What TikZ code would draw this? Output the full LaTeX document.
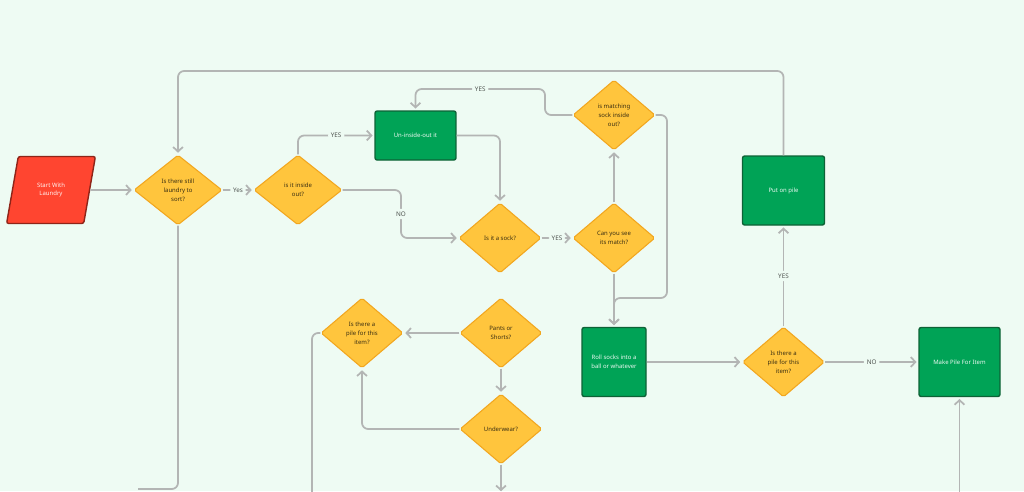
\documentclass[tikz,border=0pt]{standalone}
\usepackage{fontspec}
\setsansfont{Noto Sans}
\usetikzlibrary{arrows.meta,shapes.geometric}
\definecolor{bg}{HTML}{EEFBF3}
\definecolor{dyellow}{HTML}{FFC53D}
\definecolor{dorange}{HTML}{F2A61E}
\definecolor{dtext}{HTML}{3B2F12}
\definecolor{gfill}{HTML}{00A356}
\definecolor{gborder}{HTML}{0D6236}
\definecolor{rfill}{HTML}{FF4530}
\definecolor{rborder}{HTML}{8E2418}
\definecolor{lgray}{HTML}{B3B5B4}
\definecolor{lbltext}{HTML}{4F5450}

\begin{document}
\begin{tikzpicture}[x=0.02cm,y=-0.02cm,
	every node/.style={font=\sffamily\fontsize{3.4}{5}\selectfont,align=center},
	decision/.style={diamond,draw=dorange,fill=dyellow,line width=0.6pt,rounded corners=1pt,inner sep=0pt,minimum width=1.64cm,minimum height=1.4cm,text=dtext},
	action/.style={rectangle,draw=gborder,fill=gfill,line width=0.8pt,rounded corners=1.2pt,text=white!92!gfill},
	startbox/.style={trapezium,trapezium left angle=75,trapezium right angle=105,trapezium stretches=true,draw=rborder,fill=rfill,line width=0.8pt,rounded corners=1.2pt,minimum width=1.78cm,minimum height=1.34cm,text=white!92!rfill},
	conn/.style={draw=lgray,line width=1pt,rounded corners=3.5pt,-{Straight Barb[length=2.6pt,width=5.6pt]},shorten >=1pt},
	plainline/.style={draw=lgray,line width=1pt,rounded corners=3.5pt},
	lbl/.style={fill=bg,text=lbltext,inner sep=1.6pt,font=\sffamily\fontsize{3.6}{5}\selectfont}]
	\fill[bg] (0,0) rectangle (1024,491);
	\useasboundingbox (0,0) rectangle (1024,491);

	\node (start) at (51,190)[startbox] {Start With\\Laundry};
	\node (d1) at (178,190)[decision,minimum width=1.76cm] {Is there still\\laundry to\\sort?};
	\node (d2) at (298,190)[decision,minimum width=1.76cm] {is it inside\\out?};
	\node (unbox) at (415.5,135.5)[action,minimum width=1.62cm,minimum height=0.98cm] {Un-inside-out it};
	\node (dsock) at (500,238)[decision] {Is it a sock?};
	\node (dmatch) at (614,238)[decision] {Can you see\\its match?};
	\node (dinside) at (614,115)[decision] {is matching\\sock inside\\out?};
	\node (roll) at (614,362)[action,minimum width=1.28cm,minimum height=1.38cm] {Roll socks into a\\ball or whatever};
	\node (dpile) at (783.5,362)[decision] {Is there a\\pile for this\\item?};
	\node (puton) at (783.5,190.5)[action,minimum width=1.64cm,minimum height=1.38cm] {Put on pile};
	\node (mkpile) at (959.5,362)[action,minimum width=1.62cm,minimum height=1.38cm] {Make Pile For Item};
	\node (dpants) at (501,333)[decision] {Pants or\\Shorts?};
	\node (dpile2) at (362,333)[decision] {Is there a\\pile for this\\item?};
	\node (dunder) at (501,429)[decision] {Underwear?};

	\coordinate (nobend) at (401,214);
	\coordinate (yesup) at (545,89);
	\coordinate (merge) at (667,298);
	\coordinate (topline) at (480,71);
	\coordinate (offa) at (138,489);
	\coordinate (offb) at (312,520);
	\coordinate (offc) at (501,493);
	\coordinate (offd) at (959.5,520);

	\draw[conn] (start.east) -- (d1.west);
	\draw[conn] (d1.east) -- node[lbl] {Yes} (d2.west);
	\draw[conn] (d2.north) |- node[lbl,pos=0.75] {YES} (unbox.west);
	\draw[conn] (unbox.east) -| (dsock.north);
	\draw[conn] (d2.east) -| (nobend) node[lbl] {NO} |- (dsock.west);
	\draw[conn] (dsock.east) -- node[lbl] {YES} (dmatch.west);
	\draw[conn] (dmatch.north) -- (dinside.south);
	\draw[conn] (dinside.west) -| (yesup) -| node[lbl,pos=0.25] {YES} (unbox.north);
	\draw[conn] (dinside.east) -| (merge) -| (roll.north);
	\draw[conn] (dmatch.south) -- (roll.north);
	\draw[conn] (roll.east) -- (dpile.west);
	\draw[conn] (dpile.east) -- node[lbl] {NO} (mkpile.west);
	\draw[conn] (dpile.north) -- node[lbl] {YES} (puton.south);
	\draw[conn] (puton.north) |- (topline) -| (d1.north);
	\draw[plainline] (d1.south) |- (offa);
	\draw[conn] (dpants.west) -- (dpile2.east);
	\draw[plainline] (dpile2.west) -| (offb);
	\draw[conn] (dpants.south) -- (dunder.north);
	\draw[conn] (dunder.west) -| (dpile2.south);
	\draw[conn] (dunder.south) -- (offc);
	\draw[conn] (offd) -- (mkpile.south);
\end{tikzpicture}
\end{document}
